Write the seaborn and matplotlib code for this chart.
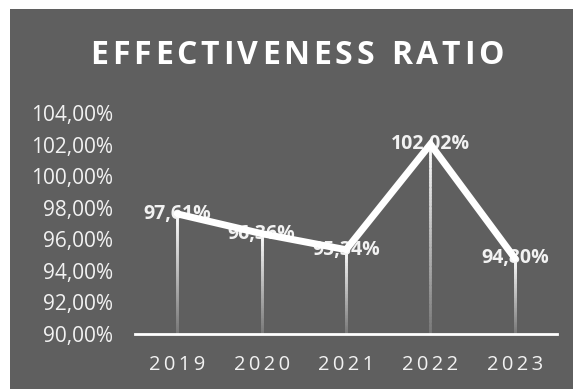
import numpy as np
import pandas as pd
import matplotlib
matplotlib.use("Agg")
import matplotlib.pyplot as plt
import seaborn as sns
from matplotlib.patches import Rectangle
from matplotlib.collections import LineCollection
from matplotlib.colors import to_rgb

years = ["2019", "2020", "2021", "2022", "2023"]
ratios = [97.61, 96.36, 95.34, 102.02, 94.80]
labels = ["97,61%", "96,36%", "95,34%", "102,02%", "94,80%"]
yticks = [90, 92, 94, 96, 98, 100, 102, 104]
ytick_labels = ["90,00%", "92,00%", "94,00%", "96,00%", "98,00%", "100,00%", "102,00%", "104,00%"]
title = "EFFECTIVENESS RATIO"

sns.set_style("white")
plt.rcParams['font.family'] = ['Open Sans', 'DejaVu Sans']

BG = "#5f5f5f"
TXT = "#f2f2f2"
W, H = 573, 389

fig = plt.figure(figsize=(W / 100, H / 100), dpi=100, facecolor="white")
bg = Rectangle((10 / W, 0), 1 - 10 / W, 1 - 9 / H, transform=fig.transFigure,
               facecolor=BG, edgecolor="none", zorder=-10)
fig.patches.append(bg)
ax = fig.add_axes([135 / W, 1 - 334 / H, 422 / W, (334 - 113) / H])
ax.set_facecolor("none")

df = pd.DataFrame({"year": years, "ratio": ratios})
x = np.arange(len(years))

# gradient drop lines (opaque blend from white to background)
white = np.array([1.0, 1.0, 1.0])
bgc = np.array(to_rgb(BG))
n = 60
for xi, yi in zip(x, ratios):
    ys = np.linspace(yi, 90, n + 1)
    segs = [[(xi, ys[k]), (xi, ys[k + 1])] for k in range(n)]
    cols = [tuple(white + (bgc - white) * (0.85 * k / n)) for k in range(n)]
    ax.add_collection(LineCollection(segs, colors=cols, linewidths=1.8, zorder=2,
                                     capstyle="projecting"))

for xi, yi, lab in zip(x, ratios, labels):
    ax.text(xi, yi, lab, ha="center", va="center", color=TXT, fontsize=14,
            fontweight="bold", zorder=3, clip_on=False)

sns.lineplot(data=df, x="year", y="ratio", ax=ax, color="white", linewidth=5,
             zorder=4, sort=False)
for l in ax.lines:
    l.set_clip_on(False)
    l.set_solid_joinstyle("miter")

ax.set_xlim(-0.5, len(years) - 0.5)
ax.set_ylim(90, 104)
ax.set_yticks(yticks)
ax.set_yticklabels(ytick_labels)
ax.set_xticks(x)
ax.set_xticklabels(["\u2009".join(y) for y in years])
ax.tick_params(axis="y", length=0, pad=16, labelsize=15, labelcolor=TXT)
ax.tick_params(axis="x", length=0, pad=15, labelsize=14.5, labelcolor=TXT)
ax.set_xlabel("")
ax.set_ylabel("")
for s in ["top", "right", "left"]:
    ax.spines[s].set_visible(False)
ax.spines["bottom"].set_color("white")
ax.spines["bottom"].set_linewidth(2)
ax.spines["bottom"].set_zorder(5)

# letter-spaced title
renderer = fig.canvas.get_renderer()
fs = 23
widths = []
for ch in title:
    t = fig.text(0, 0, ch if ch != " " else "I", fontsize=fs, fontweight="bold")
    w = t.get_window_extent(renderer).width
    if ch == " ":
        w *= 0.9
    widths.append(w)
    t.remove()
target = 413
gap = (target - sum(widths)) / (len(title) - 1)
xpos = 297 - target / 2
for ch, w in zip(title, widths):
    if ch != " ":
        fig.text(xpos / W, 1 - 55 / H, ch, ha="left", va="center", color="white",
                 fontsize=fs, fontweight="bold")
    xpos += w + gap

fig.savefig("out.png", dpi=100, facecolor="white")
